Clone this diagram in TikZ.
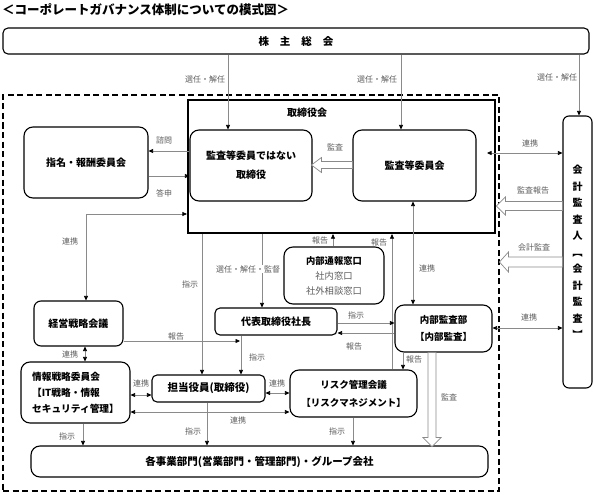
\documentclass[tikz,border=0pt]{standalone}
\usepackage{fontspec}
\setmainfont{Noto Sans CJK JP}
\usetikzlibrary{arrows.meta,calc}
\definecolor{linegray}{HTML}{8A8A8A}
\definecolor{labelgray}{HTML}{5C5C5C}
\begin{document}
\begin{tikzpicture}[x=1pt,y=-1pt,
  >={Triangle[length=4.5pt,width=4pt,black]},
  bx/.style={draw=black,line width=1.1pt,rounded corners=9pt,inner sep=0pt,align=center,
     font=\fontsize{10}{19}\selectfont\bfseries},
  conn/.style={draw=linegray,line width=0.7pt},
  lbl/.style={inner sep=0pt,text=labelgray,font=\fontsize{8}{9}\selectfont},
  hollow/.style={draw=linegray,line width=0.7pt,fill=white},
]
\useasboundingbox (0,0) rectangle (595,495);
% title
\node[anchor=west,inner sep=0pt,font=\fontsize{12.5}{14}\selectfont\bfseries] (title) at (2,10) {＜コーポレートガバナンス体制についての模式図＞};
% shareholders
\node[bx,rounded corners=5pt,minimum width=586pt,minimum height=26pt,font=\fontsize{10.5}{12}\selectfont\bfseries] (sh) at (296,41) {株\hspace{11pt}主\hspace{11pt}総\hspace{11pt}会};
% dashed frame
\node[draw,line width=1.8pt,dash pattern=on 6pt off 3.5pt,minimum width=496pt,minimum height=396pt,inner sep=0pt] (frame) at (251,293) {};
% board
\node[draw,line width=2.2pt,minimum width=307pt,minimum height=133pt,inner sep=0pt] (board) at (341.5,166.5) {};
\node[inner sep=0pt,font=\fontsize{10}{12}\selectfont\bfseries] (boardlbl) at (307,113) {取締役会};
% boxes
\node[bx,minimum width=122pt,minimum height=71pt] (nonaudit) at (251,165.5) {監査等委員ではない\\取締役};
\node[bx,minimum width=123pt,minimum height=71pt] (audit) at (414.5,165.5) {監査等委員会};
\node[bx,minimum width=124pt,minimum height=71pt] (nom) at (86,162.5) {指名・報酬委員会};
\node[bx,rounded corners=7pt,minimum width=89pt,minimum height=45pt] (keiei) at (78.5,323.5) {経営戦略会議};
\node[bx,minimum width=109pt,minimum height=61pt,align=left,font=\fontsize{9.7}{16}\selectfont\bfseries] (joho) at (75.5,392.5) {情報戦略委員会\\【IT戦略・情報\\セキュリティ管理】};
\node[bx,rounded corners=5pt,minimum width=113pt,minimum height=27pt,font=\fontsize{10.5}{12}\selectfont\bfseries] (tanto) at (208.5,388.5) {担当役員(取締役)};
\node[bx,minimum width=127pt,minimum height=47pt,font=\fontsize{9.5}{18}\selectfont\bfseries] (risk) at (353.5,393.5) {リスク管理会議\\【リスクマネジメント】};
\node[bx,rounded corners=5pt,minimum width=122pt,minimum height=27pt] (daihyo) at (276,321.5) {代表取締役社長};
\node[bx,minimum width=100pt,minimum height=57pt,font=\fontsize{9.3}{15}\selectfont] (tsuho) at (334,275.5) {\textbf{内部通報窓口}\\\textcolor{labelgray}{社内窓口}\\\textcolor{labelgray}{社外相談窓口}};
\node[bx,minimum width=97pt,minimum height=47pt,font=\fontsize{9.5}{17}\selectfont\bfseries] (naibu) at (443.5,328.5) {内部監査部\\【内部監査】};
\node[bx,minimum width=457pt,minimum height=31pt,font=\fontsize{10.5}{12}\selectfont\bfseries] (jigyo) at (259.5,461.5) {各事業部門(営業部門・管理部門)・グループ会社};
\node[bx,rounded corners=6pt,minimum width=29pt,minimum height=272pt,font=\fontsize{10}{16.5}\selectfont\bfseries] (kaikei) at (577.5,252) {会\\計\\監\\査\\人\\︻\\会\\計\\監\\査\\︼};
% helper coordinates
\coordinate (xa) at (228,0);
\coordinate (xb) at (401,0);
\coordinate (xc) at (579,0);
\coordinate (x86) at (86,0);
\coordinate (x85) at (85,0);
\coordinate (x83) at (83,0);
\coordinate (x202) at (202,0);
\coordinate (x207) at (207,0);
\coordinate (x241) at (241,0);
\coordinate (x262) at (262,0);
\coordinate (x333) at (333,0);
\coordinate (x353) at (353,0);
\coordinate (x392) at (392,0);
\coordinate (x403) at (403,0);
\coordinate (x413) at (413,0);
\coordinate (x432) at (432,0);
\coordinate (y151) at (0,151);
\coordinate (y176) at (0,176);
\coordinate (y165) at (0,165);
\coordinate (y206) at (0,206);
\coordinate (y214) at (0,214);
\coordinate (y262) at (0,262);
\coordinate (y323) at (0,323);
\coordinate (y328) at (0,328);
\coordinate (y333) at (0,333);
\coordinate (y341) at (0,341);
\coordinate (y393) at (0,393);
\coordinate (y395) at (0,395);
\coordinate (y412) at (0,412);
\coordinate (cA) at (487,153);
\coordinate (cR) at (240,341);
% shareholders connectors
\draw[conn,->] (sh.south -| xa) -- (nonaudit.north -| xa);
\draw[conn,->] (sh.south -| xb) -- (audit.north -| xb);
\draw[conn,->] (sh.south -| xc) -- (kaikei.north -| xc);
\node[lbl] (l1) at (205,79) {選任・解任};
\node[lbl] (l2) at (377,79) {選任・解任};
\node[lbl] (l3) at (557,77) {選任・解任};
% nomination
\draw[conn,->] (nonaudit.west |- y151) -- (nom.east |- y151);
\draw[conn,->] (nom.east |- y176) -- (nonaudit.west |- y176);
\node[lbl] (l4) at (164,140) {諮問};
\node[lbl] (l5) at (164,193) {答申};
% audit hollow
\draw[hollow] (audit.west |- y165) ++(0,-3.5) -- ++(-31,0) -- ++(0,-4) -- ++(-10,7.5) -- ++(10,7.5) -- ++(0,-4) -- ++(31,0) -- cycle;
\node[lbl] (l6) at (335,147) {監査};
% kaikei
\draw[conn,<->] (cA) -- (kaikei.west |- cA);
\node[lbl] (l7) at (530,143) {連携};
\draw[hollow] (kaikei.west |- y206) ++(0,-4.5) -- ++(-57,0) -- ++(0,-4.5) -- ++(-9,9) -- ++(9,9) -- ++(0,-4.5) -- ++(57,0) -- cycle;
\node[lbl] (l8) at (533,190) {監査報告};
\draw[hollow] (kaikei.west |- y262) ++(0,-5) -- ++(-54,0) -- ++(0,-5) -- ++(-9,10) -- ++(9,10) -- ++(0,-5) -- ++(54,0) -- cycle;
\node[lbl] (l9) at (534,247) {会計監査};
\draw[conn,<->] (naibu.east |- y328) -- (kaikei.west |- y328);
\node[lbl] (l10) at (529,317) {連携};
% board - keiei
\draw[conn,<->] (board.west |- y214) -| (keiei.north -| x86);
\node[lbl] (l11) at (70,241) {連携};
% board downward
\draw[conn,->] (board.south -| x202) -- (tanto.north -| x202);
\node[lbl] (l12) at (190,284) {指示};
\draw[conn,->] (board.south -| x262) -- (daihyo.north -| x262);
\node[lbl,fill=white,inner sep=0.5pt] (l13) at (248,269) {選任・解任・監督};
\draw[conn,->] (tsuho.north -| x333) -- (board.south -| x333);
\node[lbl] (l14) at (320,240) {報告};
\draw[conn,->] (risk.north -| x392) -- (board.south -| x392);
\node[lbl] (l15) at (379,242) {報告};
\draw[conn,<->] (audit.south -| x413) -- (naibu.north -| x413);
\node[lbl] (l16) at (427,268) {連携};
% daihyo - naibu
\draw[conn,->] (daihyo.east |- y323) -- (naibu.west |- y323);
\node[lbl] (l17) at (356,315) {指示};
\draw[conn,->] (naibu.west |- y333) -- (daihyo.east |- y333);
\node[lbl] (l18) at (354,346) {報告};
% keiei report
\draw[conn,->] (keiei.east |- y341) -- (cR);
\node[lbl] (l19) at (176,336) {報告};
\draw[conn,->] (daihyo.south -| x241) -- (tanto.north -| x241);
\node[lbl] (l20) at (257,357) {指示};
% keiei - joho
\draw[conn,<->] (keiei.south -| x85) -- (joho.north -| x85);
\node[lbl] (l21) at (70,354) {連携};
% joho - tanto - risk
\draw[conn,<->] (joho.east |- y395) -- (tanto.west |- y395);
\node[lbl] (l22) at (141,383) {連携};
\draw[conn,<->] (tanto.east |- y393) -- (risk.west |- y393);
\node[lbl] (l23) at (277,383) {連携};
\draw[conn,<->] (joho.east |- y412) -- (risk.west |- y412);
\node[lbl] (l24) at (238,420) {連携};
% naibu - risk
\draw[conn,->] (naibu.south -| x403) -- (risk.north -| x403);
\node[lbl] (l25) at (414,359) {報告};
% bottom audit hollow
\draw[hollow] (naibu.south -| x432) ++(-4,0) -- ++(0,85) -- ++(-5,0) -- ++(9,9) -- ++(9,-9) -- ++(-5,0) -- ++(0,-85) -- cycle;
\node[lbl] (l26) at (449,397) {監査};
% to jigyo
\draw[conn,->] (joho.south -| x83) -- (jigyo.north -| x83);
\node[lbl] (l27) at (67,436) {指示};
\draw[conn,->] (tanto.south -| x207) -- (jigyo.north -| x207);
\node[lbl] (l28) at (193,431) {指示};
\draw[conn,->] (risk.south -| x353) -- (jigyo.north -| x353);
\node[lbl] (l29) at (337,431) {指示};
\end{tikzpicture}
\end{document}
